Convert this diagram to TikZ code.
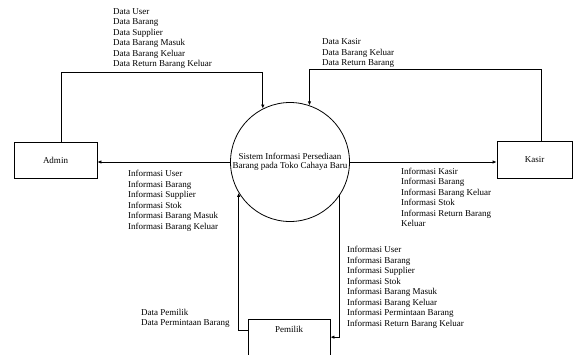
\documentclass[tikz,border=0pt]{standalone}
\usepackage{fontspec}
\setmainfont{Liberation Serif}
\usetikzlibrary{arrows.meta}

\begin{document}
\begin{tikzpicture}[
  x=1pt, y=-1pt,
  every node/.style={font=\fontsize{9}{10.5}\selectfont},
  ent/.style={draw, line width=0.8pt, inner sep=0pt},
  proc/.style={draw, circle, line width=0.8pt, inner sep=0pt,
    minimum size=119pt, align=center, font=\fontsize{9}{9}\selectfont},
  lbl/.style={align=left, anchor=north west, inner sep=0pt},
  arr/.style={-{Latex[length=4pt, width=3.5pt]}, line width=0.8pt}
]
  \useasboundingbox (0,0) rectangle (576,354);

  \node[proc] (sis) at (290,162) {Sistem Informasi Persediaan\\Barang pada Toko Cahaya Baru};
  \node[ent, minimum width=83pt, minimum height=36pt] (admin) at (55.5,160) {Admin};
  \node[ent, minimum width=75pt, minimum height=37pt] (kasir) at (534.5,160) {Kasir};
  \node[ent, anchor=north, minimum width=82pt, text height=6.5pt,
    text depth=16pt, inner ysep=6.5pt] (pemilik) at (289,319) {Pemilik};

  % data flows
  \draw[arr] ([xshift=5.5pt]admin.north) -- ++(0,-69) -| (sis.117);
  \draw[arr] ([xshift=6.5pt]kasir.north) -- ++(0,-72) -| (sis.71);
  \draw[arr] (sis.west) -- (sis.west -| admin.east);
  \draw[arr] (sis.east) -- (sis.east -| kasir.west);
  \draw[arr] (pemilik.mid west) -| (sis.211);
  \draw[arr] (sis.-34.5) |- (pemilik.east);

  % labels
  \node[lbl] (dadmin) at (113,8) {Data User\\Data Barang\\Data Supplier\\Data Barang Masuk\\Data Barang Keluar\\Data Return Barang Keluar};
  \node[lbl] (dkasir) at (322,38.5) {Data Kasir\\Data Barang Keluar\\Data Return Barang};
  \node[lbl] (iadmin) at (128,170) {Informasi User\\Informasi Barang\\Informasi Supplier\\Informasi Stok\\Informasi Barang Masuk\\Informasi Barang Keluar};
  \node[lbl] (ikasir) at (401,167.7) {Informasi Kasir\\Informasi Barang\\Informasi Barang Keluar\\Informasi Stok\\Informasi Return Barang\\Keluar};
  \node[lbl] (dpemilik) at (141,308.7) {Data Pemilik\\Data Permintaan Barang};
  \node[lbl] (ipemilik) at (347,246) {Informasi User\\Informasi Barang\\Informasi Supplier\\Informasi Stok\\Informasi Barang Masuk\\Informasi Barang Keluar\\Informasi Permintaan Barang\\Informasi Return Barang Keluar};
\end{tikzpicture}
\end{document}
